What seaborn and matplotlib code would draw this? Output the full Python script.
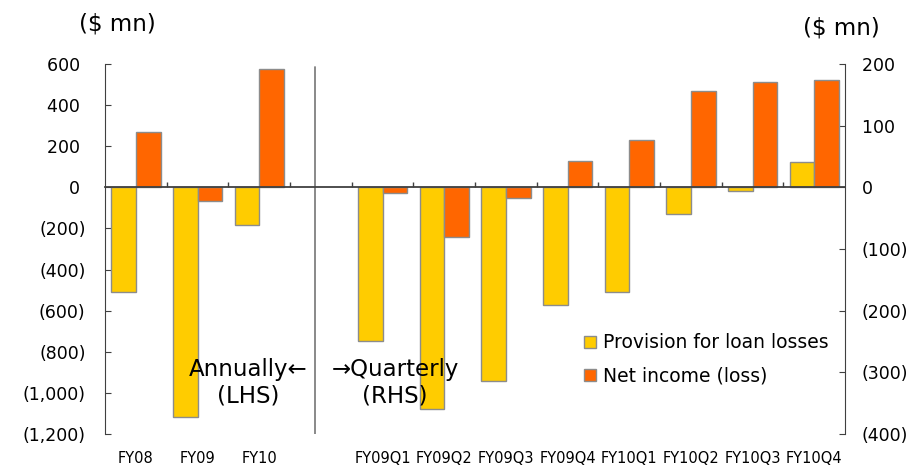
import matplotlib.pyplot as plt
import seaborn as sns
import pandas as pd
from matplotlib.patches import Patch
from matplotlib.ticker import FuncFormatter

# annual figures ($ mn), left axis
annual_periods = ["FY08", "FY09", "FY10"]
annual_provision = [-510, -1115, -183]
annual_net_income = [270, -65, 577]

# quarterly figures ($ mn), right axis
quarter_periods = ["FY09Q1", "FY09Q2", "FY09Q3", "FY09Q4",
                   "FY10Q1", "FY10Q2", "FY10Q3", "FY10Q4"]
quarter_provision = [-249, -359, -314, -190, -169, -43, -6, 41]
quarter_net_income = [-9, -80, -18, 43, 77, 156, 171, 174]

series_names = ["Provision for loan losses", "Net income (loss)"]
colours = ["#FFCC00", "#FF6600"]
edge = "#8c8c8c"
axis_col = "#404040"

sns.set_style("white")
plt.rcParams["font.family"] = ["DejaVu Sans"]
plt.rcParams["text.color"] = "black"

annual = pd.DataFrame({
    "period": annual_periods * 2,
    "series": [series_names[0]] * 3 + [series_names[1]] * 3,
    "value": annual_provision + annual_net_income,
})
quarterly = pd.DataFrame({
    "period": quarter_periods * 2,
    "series": [series_names[0]] * 8 + [series_names[1]] * 8,
    "value": quarter_provision + quarter_net_income,
})
order = annual_periods + [" "] + quarter_periods

fig = plt.figure(figsize=(9.15, 4.68), dpi=100)
ax1 = fig.add_axes([0.1148, 0.0726, 0.8087, 0.7906])
sns.barplot(data=annual, x="period", y="value", hue="series", order=order,
            hue_order=series_names, palette=colours, saturation=1,
            edgecolor=edge, linewidth=1, errorbar=None, legend=False, ax=ax1)

ax2 = ax1.twinx()
sns.barplot(data=quarterly, x="period", y="value", hue="series", order=order,
            hue_order=series_names, palette=colours, saturation=1,
            edgecolor=edge, linewidth=1, errorbar=None, legend=False, ax=ax2)

def paren(v, pos):
    if v < 0:
        return f"({abs(v):,.0f})"
    return f"{v:,.0f} "

ax1.set_ylim(-1200, 600)
ax1.set_yticks(range(-1200, 601, 200))
ax1.yaxis.set_major_formatter(FuncFormatter(paren))
ax2.set_ylim(-400, 200)
ax2.set_yticks(range(-400, 201, 100))
ax2.yaxis.set_major_formatter(FuncFormatter(paren))
for ax in (ax1, ax2):
    ax.set_xlabel("")
    ax.set_ylabel("")
ax1.set_xlim(-0.5, len(order) - 0.5)

# category labels at the bottom, boundary ticks on the zero line
ax1.set_xticks(range(len(order)))
ax1.set_xticklabels(order)
ax1.set_xticks([i + 0.5 for i in range(len(order) - 1)], minor=True)
ax1.tick_params(axis="x", which="major", length=0, pad=12, labelsize=10.5,
                labelcolor="black")
ax1.tick_params(axis="x", which="minor", length=0)
ax1.tick_params(axis="y", left=True, direction="in", length=4.3, pad=14,
                labelsize=12.5, color=axis_col, labelcolor="black")

ax2.xaxis.set_visible(True)
ax2.spines["bottom"].set_position(("data", 0))
ax2.tick_params(axis="x", which="major", length=0, labelbottom=False)
ax2.tick_params(axis="x", which="minor", bottom=True, direction="in",
                length=3.6, color=axis_col, width=1)
ax2.tick_params(axis="y", right=True, direction="in", length=4.3, pad=12,
                labelsize=12.5, color=axis_col, labelcolor="black")

for s in ["top", "right", "bottom"]:
    ax1.spines[s].set_visible(False)
ax1.spines["left"].set_color(axis_col)
ax2.spines["top"].set_visible(False)
ax2.spines["left"].set_visible(False)
ax2.spines["bottom"].set_color(axis_col)
ax2.spines["bottom"].set_linewidth(1.3)
ax2.spines["right"].set_color(axis_col)

# divider between annual and quarterly blocks
ax2.axvline(2.905, ymin=0.0, ymax=0.992, color="#808080", lw=1.3)

ax2.text(0.193, 0.138, "Annually\u2190\n(LHS)", transform=ax2.transAxes,
         ha="center", va="center", fontsize=16.5, multialignment="center")
ax2.text(0.392, 0.138, "\u2192Quarterly\n(RHS)", transform=ax2.transAxes,
         ha="center", va="center", fontsize=16.5, multialignment="center")

fig.text(0.128, 0.948, "($ mn)", ha="center", va="center", fontsize=16.5)
fig.text(0.920, 0.940, "($ mn)", ha="center", va="center", fontsize=16.5)

handles = [Patch(facecolor=c, edgecolor=edge, linewidth=1) for c in colours]
ax2.legend(handles, series_names, loc="upper left", bbox_to_anchor=(0.647, 0.272),
           frameon=False, fontsize=13.5, borderpad=0, handlelength=0.65,
           handleheight=0.65, handletextpad=0.37, labelspacing=0.75,
           borderaxespad=0)

fig.savefig("out.png", dpi=100)
